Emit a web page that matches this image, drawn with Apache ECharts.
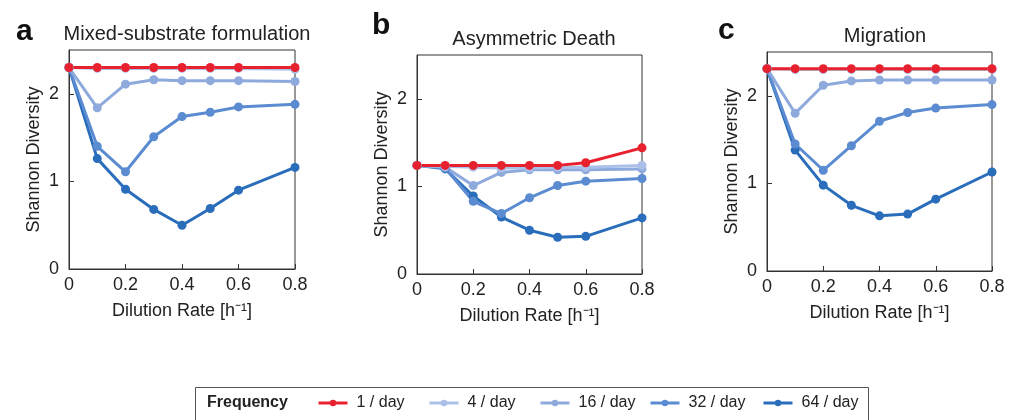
<!DOCTYPE html>
<html>
<head>
<meta charset="utf-8">
<script src="https://cdn.jsdelivr.net/npm/echarts@6/dist/echarts.min.js"></script>
<style>
  html, body { margin: 0; padding: 0; background: #fff; }
  #main { width: 1014px; height: 420px; }
</style>
</head>
<body>
<div id="main"></div>
<script>
var dilution = [0, 0.1, 0.2, 0.3, 0.4, 0.5, 0.6, 0.8];
var freqNames = ['1 / day', '4 / day', '16 / day', '32 / day', '64 / day'];
var freqColors = ['#e8212e', '#abc0e8', '#8eaadd', '#5b8bd0', '#2a6ebb'];
var panelTitles = ['Mixed-substrate formulation', 'Asymmetric Death', 'Migration'];

// panel a: mixed-substrate formulation
var mixed1 = [2.30, 2.30, 2.30, 2.30, 2.30, 2.30, 2.30, 2.30];
var mixed4 = [2.30, 2.29, 2.29, 2.29, 2.29, 2.29, 2.29, 2.28];
var mixed16 = [2.30, 1.84, 2.11, 2.16, 2.15, 2.15, 2.15, 2.14];
var mixed32 = [2.30, 1.40, 1.11, 1.51, 1.74, 1.79, 1.85, 1.88];
var mixed64 = [2.30, 1.26, 0.91, 0.68, 0.50, 0.69, 0.90, 1.16];

// panel b: asymmetric death
var death1 = [1.24, 1.24, 1.24, 1.24, 1.24, 1.24, 1.27, 1.44];
var death4 = [1.24, 1.23, 1.22, 1.21, 1.21, 1.22, 1.22, 1.24];
var death16 = [1.24, 1.22, 1.01, 1.16, 1.19, 1.19, 1.19, 1.20];
var death32 = [1.24, 1.21, 0.83, 0.69, 0.87, 1.01, 1.06, 1.09];
var death64 = [1.24, 1.20, 0.89, 0.65, 0.50, 0.42, 0.43, 0.64];

// panel c: migration
var migr1 = [2.31, 2.31, 2.31, 2.31, 2.31, 2.31, 2.31, 2.31];
var migr4 = [2.31, 2.30, 2.30, 2.30, 2.30, 2.30, 2.30, 2.30];
var migr16 = [2.31, 1.80, 2.12, 2.17, 2.18, 2.18, 2.18, 2.18];
var migr32 = [2.31, 1.45, 1.15, 1.43, 1.71, 1.81, 1.86, 1.90];
var migr64 = [2.31, 1.38, 0.98, 0.75, 0.63, 0.65, 0.82, 1.13];

var panels = [
  [mixed1, mixed4, mixed16, mixed32, mixed64],
  [death1, death4, death16, death32, death64],
  [migr1, migr4, migr16, migr32, migr64]
];

var grids = [
  { left: 69, top: 50, width: 226, height: 219 },
  { left: 417, top: 55, width: 225, height: 219 },
  { left: 767, top: 52, width: 225, height: 219 }
];

var font = 'Liberation Sans, Arial, Helvetica, sans-serif';

var xAxes = [], yAxes = [], series = [];
grids.forEach(function (g, i) {
  g.show = true;
  g.borderColor = '#333';
  g.borderWidth = 1;
  xAxes.push({
    type: 'value', gridIndex: i, min: 0, max: 0.8, interval: 0.2,
    name: 'Dilution Rate [h⁻¹]', nameLocation: 'middle', nameGap: 33,
    nameTextStyle: { fontSize: 18, color: '#222', fontFamily: font },
    axisLine: { lineStyle: { color: '#333' } },
    axisTick: { inside: true, length: 5, lineStyle: { color: '#333' } },
    axisLabel: { fontSize: 18, color: '#222', margin: 7, fontFamily: font },
    splitLine: { show: false }
  });
  yAxes.push({
    type: 'value', gridIndex: i, min: 0, max: 2.5, interval: 1,
    name: 'Shannon Diversity', nameLocation: 'middle', nameGap: 26,
    nameTextStyle: { fontSize: 18, color: '#222', fontFamily: font },
    axisLine: { show: true, lineStyle: { color: '#333' } },
    axisTick: { show: true, inside: true, length: 5, lineStyle: { color: '#333' } },
    axisLabel: { fontSize: 18, color: '#222', margin: 10, fontFamily: font, showMaxLabel: false },
    splitLine: { show: false }
  });
  // darkest first, red drawn last
  for (var k = freqNames.length - 1; k >= 0; k--) {
    var vals = panels[i][k];
    series.push({
      name: freqNames[k], type: 'line', xAxisIndex: i, yAxisIndex: i,
      data: dilution.map(function (d, j) { return [d, vals[j]]; }),
      symbol: 'circle', symbolSize: 9,
      itemStyle: { color: freqColors[k] },
      lineStyle: { color: freqColors[k], width: 3 },
      animation: false
    });
  }
});

// one legend per frequency so each sits at its own slot
var legendLefts = [312, 423, 534, 644, 757];
var legends = freqNames.map(function (n, k) {
  return {
    data: [n], left: legendLefts[k], top: 390,
    itemWidth: 29, itemHeight: 8, itemGap: 0,
    lineStyle: { width: 3 },
    textStyle: { fontSize: 16, color: '#222', fontFamily: font, padding: [0, 0, 0, 4] },
    selectedMode: false
  };
});

var chart = echarts.init(document.getElementById('main'), null, { renderer: 'canvas' });
chart.setOption({
  backgroundColor: '#fff',
  textStyle: { fontFamily: font },
  title: [
    { text: 'a', left: 11, top: 12, textStyle: { fontSize: 30, fontWeight: 'bold', color: '#111', fontFamily: font } },
    { text: panelTitles[0], left: 182, top: 19, textAlign: 'center', textStyle: { fontSize: 20, fontWeight: 'normal', color: '#222', fontFamily: font } },
    { text: 'b', left: 367, top: 6, textStyle: { fontSize: 30, fontWeight: 'bold', color: '#111', fontFamily: font } },
    { text: panelTitles[1], left: 529, top: 24, textAlign: 'center', textStyle: { fontSize: 20, fontWeight: 'normal', color: '#222', fontFamily: font } },
    { text: 'c', left: 713, top: 11, textStyle: { fontSize: 30, fontWeight: 'bold', color: '#111', fontFamily: font } },
    { text: panelTitles[2], left: 880, top: 21, textAlign: 'center', textStyle: { fontSize: 20, fontWeight: 'normal', color: '#222', fontFamily: font } }
  ],
  grid: grids,
  xAxis: xAxes,
  yAxis: yAxes,
  legend: legends,
  graphic: [
    { type: 'rect', shape: { x: 195.5, y: 387.5, width: 673, height: 40 },
      style: { fill: 'none', stroke: '#555', lineWidth: 1 } },
    { type: 'text', left: 207, top: 395,
      style: { text: 'Frequency', fontSize: 16, fontWeight: 'bold', fill: '#222', fontFamily: font } }
  ],
  series: series
});
</script>
</body>
</html>
